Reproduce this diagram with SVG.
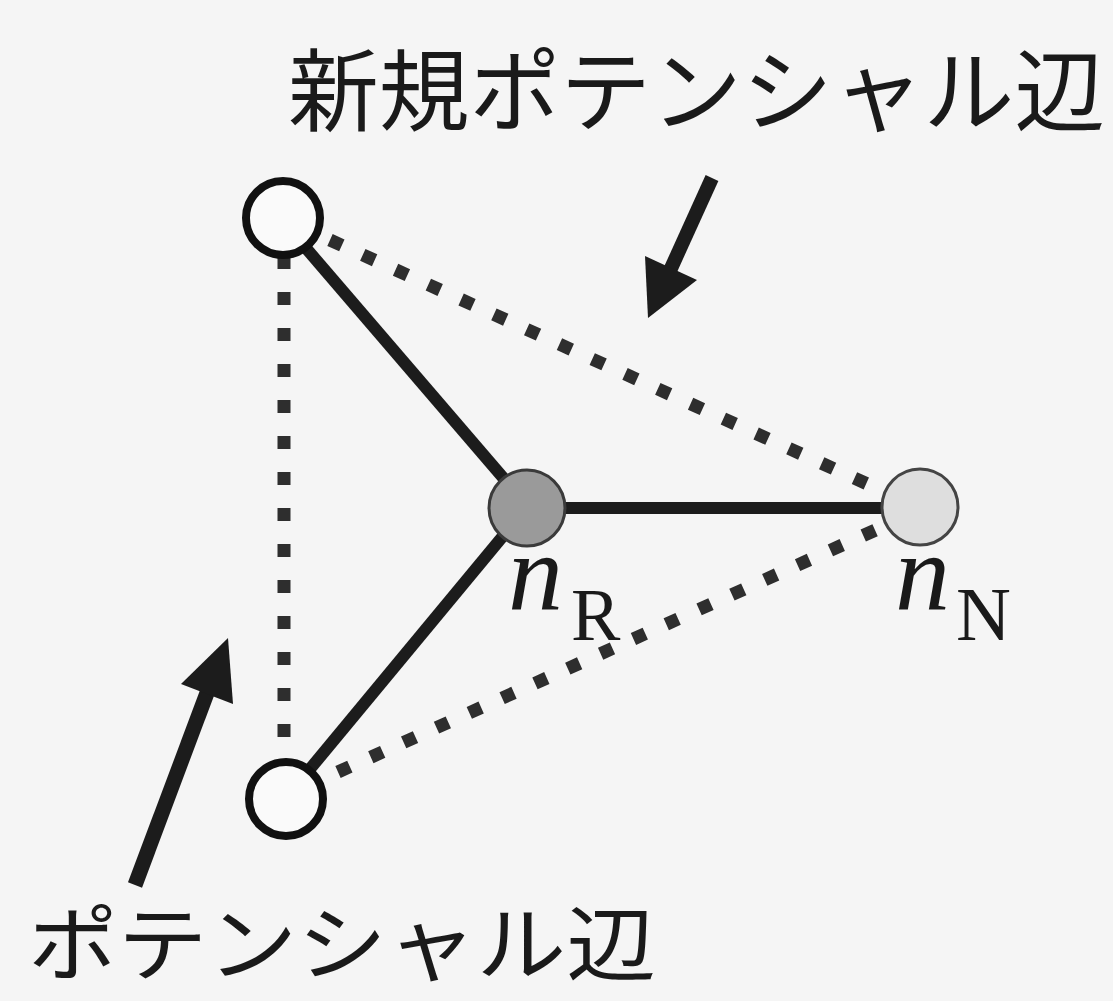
<svg xmlns="http://www.w3.org/2000/svg" width="1113" height="1001" viewBox="0 0 1113 1001">
<style>
.solid{stroke:#1c1c1c;stroke-width:12;fill:none;stroke-linecap:butt}
.dot{stroke:#2e2e2e;stroke-width:13;fill:none;stroke-dasharray:13 23}
.open{fill:#fafafa;stroke:#111;stroke-width:8}
.jp{font-family:"Noto Sans CJK JP","Noto Sans CJK SC",sans-serif;fill:#1a1a1a}
.it{font-family:"Liberation Serif","Times New Roman",serif;font-style:italic;fill:#1a1a1a}
.sub{font-family:"Liberation Serif","Times New Roman",serif;fill:#1a1a1a}
.arr{fill:#1c1c1c}
</style>
<rect width="1113" height="1001" fill="#f5f5f5"/>
<g id="connectors">
  <line class="dot" x1="284" y1="256" x2="284" y2="760"/>
  <line class="dot" x1="330" y1="240" x2="885" y2="492"/>
  <line class="dot" x1="338" y1="772" x2="880" y2="528"/>
  <line class="solid" x1="305" y1="247" x2="512" y2="488"/>
  <line class="solid" x1="508" y1="530" x2="305" y2="775"/>
  <line class="solid" x1="560" y1="508" x2="885" y2="508" stroke-width="11"/>
</g>
<g id="node-top">
  <circle class="open" cx="283" cy="218" r="37"/>
</g>
<g id="node-bottom">
  <circle class="open" cx="286" cy="799" r="37"/>
</g>
<g id="node-R">
  <circle cx="527" cy="508" r="38" fill="#9a9a9a" stroke="#3a3a3a" stroke-width="3"/>
  <text class="it" x="508" y="610" font-size="110">n</text>
  <text class="sub" x="571" y="640" font-size="74">R</text>
</g>
<g id="node-N">
  <circle cx="920" cy="507" r="38" fill="#dedede" stroke="#444" stroke-width="3"/>
  <text class="it" x="895" y="610" font-size="110">n</text>
  <text class="sub" x="956" y="640" font-size="76">N</text>
</g>
<g id="arrow-new">
  <line x1="712" y1="178" x2="668" y2="275" stroke="#1c1c1c" stroke-width="14"/>
  <polygon class="arr" points="648,318 645,256 697,280"/>
</g>
<g id="arrow-pot">
  <line x1="135" y1="885" x2="210" y2="685" stroke="#1c1c1c" stroke-width="15"/>
  <polygon class="arr" points="228,638 181,684 233,704"/>
</g>
<g id="label-new">
  <text class="jp" x="288" y="124" font-size="90" textLength="817" lengthAdjust="spacingAndGlyphs">新規ポテンシャル辺</text>
</g>
<g id="label-pot">
  <text class="jp" x="28" y="974" font-size="82" textLength="628" lengthAdjust="spacingAndGlyphs">ポテンシャル辺</text>
</g>
</svg>
